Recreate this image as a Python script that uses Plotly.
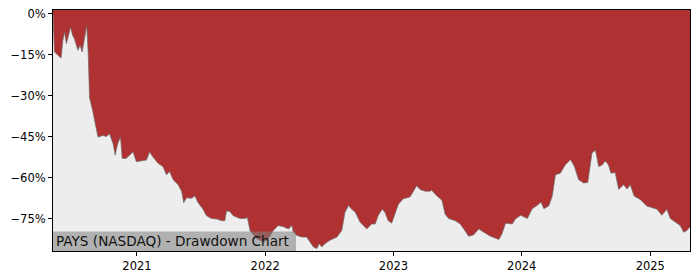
import plotly.graph_objects as go

dates = [
    "2020-05-07", "2020-05-08", "2020-05-11", "2020-05-21", "2020-05-30", "2020-06-04", "2020-06-09",
    "2020-06-14", "2020-06-20", "2020-06-26", "2020-07-02", "2020-07-07", "2020-07-17", "2020-07-23",
    "2020-07-29", "2020-08-05", "2020-08-11", "2020-08-15", "2020-08-19", "2020-08-28", "2020-09-07",
    "2020-09-12", "2020-09-26", "2020-10-06", "2020-10-15", "2020-10-25", "2020-10-31", "2020-11-07",
    "2020-11-15", "2020-11-20", "2020-12-01", "2020-12-11", "2020-12-21", "2020-12-30",
    "2021-01-08", "2021-01-28", "2021-02-06", "2021-02-15", "2021-03-02", "2021-03-16", "2021-03-26",
    "2021-04-04", "2021-04-14", "2021-04-28", "2021-05-08", "2021-05-14", "2021-05-22", "2021-06-05",
    "2021-06-15", "2021-06-24", "2021-07-08", "2021-07-18", "2021-08-01", "2021-08-16", "2021-08-30",
    "2021-09-08", "2021-09-13", "2021-09-23", "2021-10-02", "2021-10-12", "2021-10-21", "2021-11-05",
    "2021-11-11", "2021-11-19", "2021-12-08", "2021-12-27",
    "2022-01-10", "2022-01-24", "2022-02-07", "2022-02-22", "2022-03-08", "2022-03-18", "2022-03-22",
    "2022-04-01", "2022-04-15", "2022-04-29", "2022-05-09", "2022-05-18", "2022-05-28", "2022-06-04",
    "2022-06-11", "2022-06-20", "2022-07-04", "2022-07-24", "2022-08-07", "2022-08-16", "2022-08-26",
    "2022-09-04", "2022-09-14", "2022-09-28", "2022-10-17", "2022-10-31", "2022-11-10", "2022-11-19",
    "2022-11-30", "2022-12-08", "2022-12-17", "2022-12-27",
    "2023-01-05", "2023-01-15", "2023-01-29", "2023-02-17", "2023-02-27", "2023-03-08", "2023-03-18",
    "2023-04-01", "2023-04-15", "2023-04-20", "2023-05-05", "2023-05-19", "2023-05-28", "2023-06-07",
    "2023-06-26", "2023-07-10", "2023-07-20", "2023-08-03", "2023-08-17", "2023-09-01", "2023-09-15",
    "2023-10-04", "2023-10-28", "2023-11-06", "2023-11-16", "2023-12-05", "2023-12-14", "2023-12-29",
    "2024-01-17", "2024-01-31", "2024-02-14", "2024-02-25", "2024-03-04", "2024-03-18", "2024-03-28",
    "2024-04-06", "2024-04-20", "2024-05-04", "2024-05-19", "2024-05-30", "2024-06-11", "2024-06-25",
    "2024-07-07", "2024-07-14", "2024-07-19", "2024-07-29", "2024-08-07", "2024-08-17", "2024-08-26",
    "2024-09-04", "2024-09-11", "2024-09-23", "2024-10-03", "2024-10-17", "2024-10-27", "2024-11-05",
    "2024-11-16", "2024-12-03", "2024-12-22",
    "2025-01-05", "2025-01-20", "2025-02-03", "2025-02-17", "2025-02-27", "2025-03-13", "2025-03-27",
    "2025-04-06", "2025-04-15", "2025-04-24",
]

drawdown_pct = [
    0.0, -6.2, -14.0, -15.2, -16.2, -9.8, -6.8,
    -11.0, -8.0, -5.0, -8.0, -9.2, -13.4, -11.6,
    -14.0, -9.2, -4.4, -14.0, -30.8, -35.6, -42.8,
    -45.2, -44.6, -45.0, -44.0, -47.6, -51.8, -47.6,
    -45.2, -53.0, -53.0, -51.8, -50.6, -54.2,
    -54.0, -53.6, -50.6, -52.4, -54.8, -56.0, -59.0,
    -57.8, -60.8, -62.6, -65.0, -69.2, -67.4, -67.6,
    -66.8, -69.2, -71.6, -74.0, -75.0, -75.2, -75.8,
    -75.8, -72.2, -72.5, -74.0, -74.6, -75.0, -75.0,
    -74.6, -79.5, -82.4, -83.6,
    -82.4, -79.4, -77.6, -78.0, -78.8, -77.6, -80.0,
    -81.2, -81.8, -81.8, -83.6, -85.4, -86.0, -84.2,
    -85.4, -84.2, -83.0, -81.8, -79.4, -72.8, -70.2,
    -71.6, -72.6, -76.4, -78.8, -77.0, -77.0, -73.8,
    -71.6, -72.8, -75.8, -76.7,
    -73.4, -69.8, -67.8, -67.1, -65.0, -63.0, -64.4,
    -65.0, -65.0, -64.7, -66.8, -68.3, -73.4, -75.0,
    -75.8, -77.0, -78.8, -81.5, -81.0, -78.8, -80.0,
    -81.5, -82.7, -80.6, -76.7, -77.0, -75.2, -73.8,
    -75.0, -71.4, -70.2, -69.0, -71.4, -70.4, -66.8,
    -59.0, -58.4, -55.4, -53.4, -56.0, -60.8, -62.0,
    -61.8, -56.0, -51.0, -50.0, -56.0, -55.4, -53.9,
    -55.4, -58.4, -58.2, -64.4, -62.6, -64.2, -62.6,
    -66.8, -68.0, -70.4,
    -71.0, -71.6, -73.8, -71.6, -75.0, -76.4, -77.6,
    -80.0, -79.4, -78.0,
]

y_tick_vals = [0, -15, -30, -45, -60, -75]
y_tick_text = ["0%", "\u221215%", "\u221230%", "\u221245%", "\u221260%", "\u221275%"]
x_tick_vals = ["2021-01-01", "2022-01-01", "2023-01-01", "2024-01-01", "2025-01-01"]
x_tick_text = ["2021", "2022", "2023", "2024", "2025"]
title_text = "PAYS (NASDAQ) - Drawdown Chart"

RED = "#b03131"
LIGHT = "#ededed"
Y_RANGE = [-86.9, 1.35]
BASE = -120

fig = go.Figure()
fig.add_trace(go.Scatter(
    x=[dates[0], dates[-1]], y=[BASE, BASE], mode="lines",
    line=dict(width=0), hoverinfo="skip", showlegend=False,
))
fig.add_trace(go.Scatter(
    x=dates, y=drawdown_pct, mode="lines",
    line=dict(color="rgba(110,110,110,0.7)", width=1),
    fill="tonexty", fillcolor=LIGHT, showlegend=False,
))

# label box (semi-transparent gray) at the lower left of the plot
fig.add_shape(
    type="rect", xref="paper", yref="paper",
    xsizemode="pixel", ysizemode="pixel", xanchor=0, yanchor=0,
    x0=0, x1=243, y0=0, y1=19.6,
    fillcolor="rgba(128,128,128,0.55)", line=dict(width=0), layer="above",
)
fig.add_annotation(
    text=title_text, xref="paper", yref="paper", x=0, y=0,
    xanchor="left", yanchor="middle", xshift=2, yshift=9.8, showarrow=False,
    font=dict(family="DejaVu Sans", size=13.6, color="#111111"),
    borderpad=0, align="left",
)

fig.update_layout(
    width=700, height=280,
    margin=dict(l=53, r=10, t=7, b=28),
    paper_bgcolor="white", plot_bgcolor=RED,
    font=dict(family="DejaVu Sans", size=11.5, color="black"),
    showlegend=False,
)
fig.update_xaxes(
    range=[dates[0], dates[-1]], tickvals=x_tick_vals, ticktext=x_tick_text,
    showgrid=False, zeroline=False, showline=True, linecolor="black", linewidth=1,
    mirror=True, ticks="outside", ticklen=4, tickcolor="black",
)
fig.update_yaxes(
    range=Y_RANGE, tickvals=y_tick_vals, ticktext=y_tick_text,
    showgrid=False, zeroline=False, showline=True, linecolor="black", linewidth=1,
    mirror=True, ticks="outside", ticklen=4, tickcolor="black",
)

fig.write_html("out.html")
